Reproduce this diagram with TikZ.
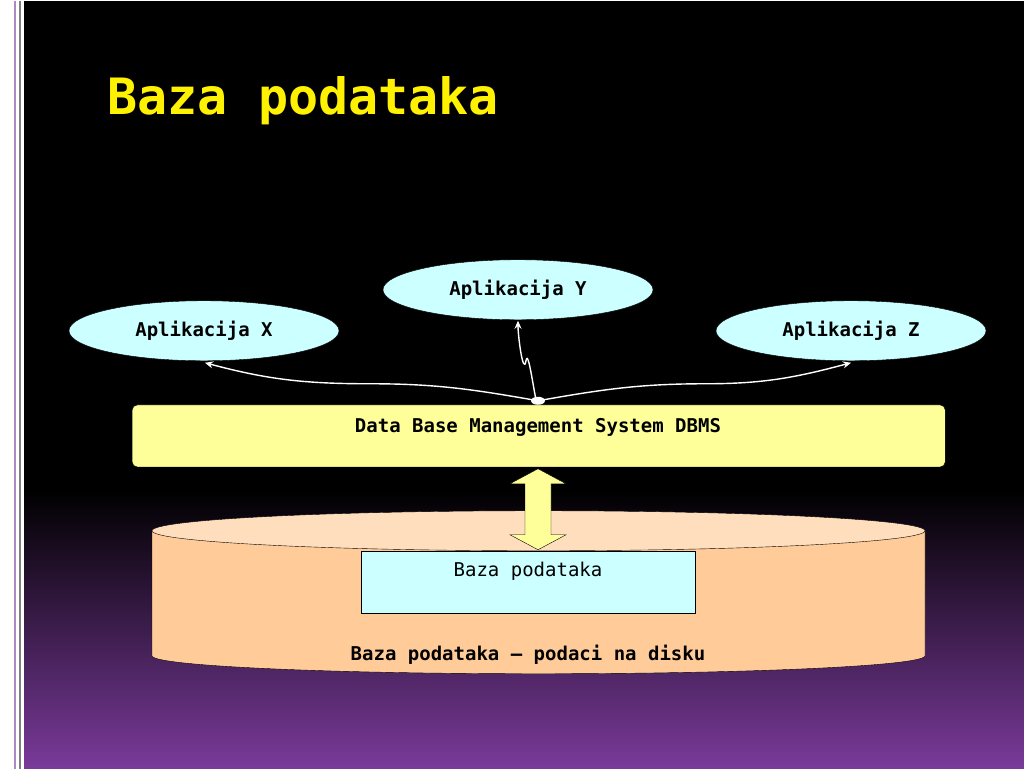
\documentclass[tikz,border=0pt]{standalone}
\usepackage{fontspec}
\setmonofont{DejaVu Sans Mono}
\usetikzlibrary{shapes.geometric,arrows.meta}
\definecolor{appcyan}{RGB}{204,255,255}
\definecolor{dbmsyellow}{RGB}{255,255,153}
\definecolor{disktop}{RGB}{255,222,190}
\definecolor{diskside}{RGB}{255,204,153}
\definecolor{slidepurple}{RGB}{122,58,154}

\begin{document}
\begin{tikzpicture}[x=1pt,y=-1pt,
	app/.style={draw=black, ellipse, fill=appcyan, minimum width=270pt, minimum height=60pt, font=\ttfamily\bfseries\fontsize{19}{22}\selectfont},
	link/.style={white, line width=1.4pt, -{Stealth[length=8pt,width=7pt]}},
	label/.style={font=\ttfamily\bfseries\fontsize{19}{22}\selectfont}
]
% background
\fill[white] (0,0) rectangle (1024,768);
\draw[slidepurple!60, line width=1.5pt] (15,0) -- (15,768);
\draw[gray, line width=1.5pt] (20,0) -- (20,768);
\fill[black] (24,0) rectangle (1024,490);
\shade[top color=black, bottom color=slidepurple] (24,490) rectangle (1024,768);
\useasboundingbox (0,0) rectangle (1024,768);

% title
\node[anchor=west, text=yellow, font=\ttfamily\bfseries\fontsize{50}{56}\selectfont] (title) at (104,100) {Baza podataka};

% applications
\node[app] (appY) at (518,289) {Aplikacija Y};
\node[app] (appX) at (204,330) {Aplikacija X};
\node[app] (appZ) at (851,330) {Aplikacija Z};

% dbms
\node[draw=black, fill=dbmsyellow, rounded corners=5pt, minimum width=813pt, minimum height=62pt, anchor=north west, inner sep=0pt] (dbms) at (132,404) {};
\node[label] (dbmstext) at (538,427) {Data Base Management System DBMS};

% disk
\fill[diskside, draw=black] (152,530) -- (152,655) arc[start angle=180, end angle=0, x radius=386.5, y radius=18] -- (925,530) -- cycle;
\fill[disktop, draw=black] (538.5,530) ellipse[x radius=386.5, y radius=20];
\node[draw=black, fill=appcyan, minimum width=334pt, minimum height=62pt, anchor=north west] (base) at (361,550) {};
\node[font=\ttfamily\fontsize{19}{22}\selectfont] (basetext) at (528,570) {Baza podataka};
\node[label] (disktext) at (528,654) {Baza podataka – podaci na disku};

% double arrow
\draw[black, fill=dbmsyellow] (538,468) -- (566,483) -- (551,483) -- (551,534) -- (566,534)
  -- (538,549) -- (510,534) -- (525,534) -- (525,483) -- (510,483) -- cycle;

% connectors
\coordinate (hub) at (538,400);
\coordinate (endX) at (205,362);
\coordinate (endY) at (518,320);
\coordinate (endZ) at (851,362);
\fill[white] (hub) ellipse[x radius=7, y radius=4];
\draw[link] (hub) to[out=170, in=0] (370,383) to[out=180, in=-15] (endX);
\draw[link] (hub) to[out=-95, in=80] (526,360) to[out=-100, in=-90] (endY);
\draw[link] (hub) to[out=10, in=180] (706,383) to[out=0, in=195] (endZ);
\end{tikzpicture}
\end{document}
